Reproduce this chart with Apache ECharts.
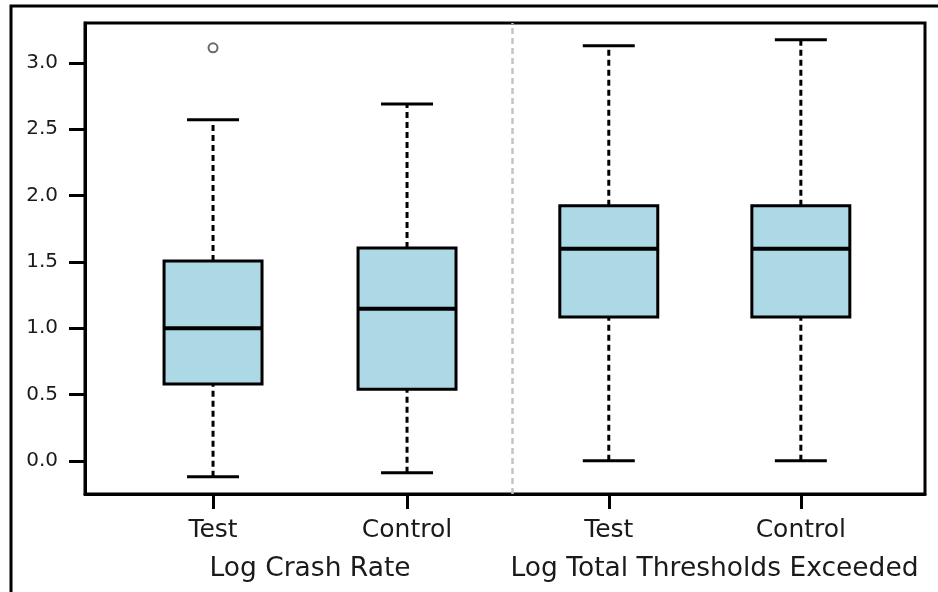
<!DOCTYPE html>
<html>
<head>
<meta charset="utf-8">
<script src="https://cdn.jsdelivr.net/npm/echarts@6/dist/echarts.min.js"></script>
<style>html,body{margin:0;padding:0;background:#fff;}#chart{width:938px;height:592px;}</style>
</head>
<body>
<div id="chart"></div>
<script>
// ---- data ----
const groupNames = ['Test', 'Control', 'Test', 'Control'];
const groupPositions = [0.66, 1.66, 2.70, 3.69];
const mins    = [-0.12, -0.09, 0.00, 0.00];
const q1s     = [0.58, 0.54, 1.085, 1.085];
const medians = [1.00, 1.146, 1.598, 1.598];
const q3s     = [1.507, 1.605, 1.922, 1.922];
const maxs    = [2.57, 2.69, 3.128, 3.173];
const outliers = [[0.66, 3.113]];
const panelNames = ['Log Crash Rate', 'Log Total Thresholds Exceeded'];
const panelPositions = [1.16, 3.245];
const separatorPosition = 2.196;
const yTicks = [0, 0.5, 1.0, 1.5, 2.0, 2.5, 3.0];

const boxData = groupPositions.map((p, i) => [p, mins[i], q1s[i], medians[i], q3s[i], maxs[i]]);

const BOX_W = 0.505, CAP_W = 0.268;
const chart = echarts.init(document.getElementById('chart'));
const font = 'DejaVu Sans';

chart.setOption({
  animation: false,
  backgroundColor: '#fff',
  graphic: [{
    type: 'rect', shape: {x: 11, y: 6, width: 1000, height: 700},
    style: {fill: 'none', stroke: '#000', lineWidth: 3}, z: 100, silent: true
  }],
  grid: {left: 85, right: 13, top: 23, bottom: 98, show: true, borderColor: '#000', borderWidth: 3, backgroundColor: 'transparent'},
  xAxis: [{
    type: 'value', min: 0, max: 4.33,
    splitLine: {show: false},
    axisLine: {show: true, onZero: false, lineStyle: {color: '#000', width: 3}},
    axisTick: {show: true, length: 15, lineStyle: {color: '#000', width: 3}, customValues: groupPositions},
    axisLabel: {
      customValues: groupPositions, margin: 24, fontSize: 25, fontFamily: font, color: '#1a1a1a',
      formatter: v => { const i = groupPositions.findIndex(p => Math.abs(p - v) < 1e-6); return i >= 0 ? groupNames[i] : ''; }
    }
  }, {
    type: 'value', min: 0, max: 4.33, position: 'bottom', offset: 40,
    splitLine: {show: false}, axisLine: {show: false, onZero: false}, axisTick: {show: false},
    axisLabel: {
      customValues: panelPositions, margin: 22, fontSize: 26.5, fontFamily: font, color: '#1a1a1a',
      formatter: v => { const i = panelPositions.findIndex(p => Math.abs(p - v) < 1e-6); return i >= 0 ? panelNames[i] : ''; }
    }
  }],
  yAxis: {
    type: 'value', min: -0.25, max: 3.3,
    splitLine: {show: false},
    axisLine: {show: true, onZero: false, lineStyle: {color: '#000', width: 3}},
    axisTick: {show: true, length: 16, lineStyle: {color: '#000', width: 3}, customValues: yTicks},
    axisLabel: {customValues: yTicks, margin: 27, fontSize: 20, fontFamily: font, color: '#1a1a1a', formatter: v => v.toFixed(1)}
  },
  series: [{
    type: 'custom',
    data: boxData,
    encode: {x: 0, y: [1, 2, 3, 4, 5]},
    renderItem: function (params, api) {
      const x = api.value(0);
      const pMin = api.coord([x, api.value(1)]);
      const pQ1 = api.coord([x, api.value(2)]);
      const pMed = api.coord([x, api.value(3)]);
      const pQ3 = api.coord([x, api.value(4)]);
      const pMax = api.coord([x, api.value(5)]);
      const bw = api.size([BOX_W, 0])[0];
      const cw = api.size([CAP_W, 0])[0];
      const cx = pMed[0];
      const dash = {stroke: '#000', lineWidth: 3, lineDash: [6, 4]};
      const solid = {stroke: '#000', lineWidth: 3};
      return {
        type: 'group',
        children: [
          {type: 'line', shape: {x1: cx, y1: pMin[1], x2: cx, y2: pQ1[1]}, style: dash},
          {type: 'line', shape: {x1: cx, y1: pQ3[1], x2: cx, y2: pMax[1]}, style: dash},
          {type: 'line', shape: {x1: cx - cw / 2, y1: pMin[1], x2: cx + cw / 2, y2: pMin[1]}, style: solid},
          {type: 'line', shape: {x1: cx - cw / 2, y1: pMax[1], x2: cx + cw / 2, y2: pMax[1]}, style: solid},
          {type: 'rect', shape: {x: cx - bw / 2, y: pQ3[1], width: bw, height: pQ1[1] - pQ3[1]}, style: {fill: '#ADD8E6', stroke: '#000', lineWidth: 3}},
          {type: 'line', shape: {x1: cx - bw / 2, y1: pMed[1], x2: cx + bw / 2, y2: pMed[1]}, style: {stroke: '#000', lineWidth: 4}}
        ]
      };
    },
    markLine: {
      silent: true, symbol: 'none', label: {show: false},
      lineStyle: {color: '#c4c4c4', width: 2.5, type: [6, 4]},
      data: [{xAxis: separatorPosition}]
    }
  }, {
    type: 'scatter',
    data: outliers,
    symbol: 'circle', symbolSize: 9,
    itemStyle: {color: '#fff', borderColor: '#444', borderWidth: 2}
  }]
});
</script>
</body>
</html>
